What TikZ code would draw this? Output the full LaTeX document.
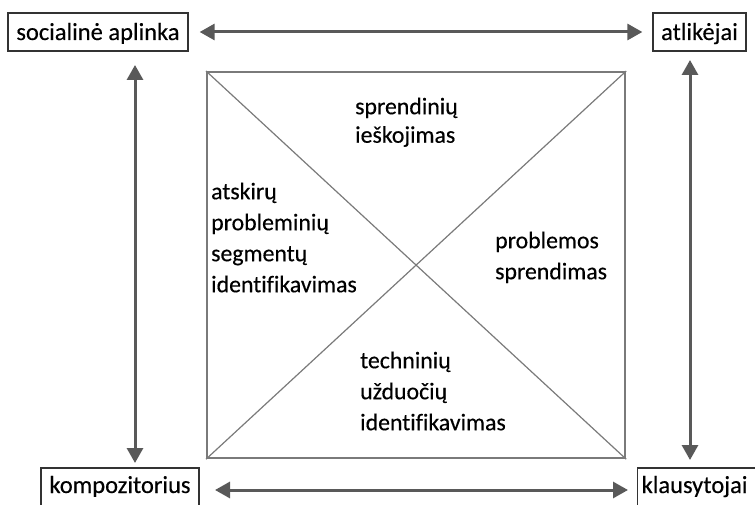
\documentclass[tikz,border=0pt]{standalone}
\usepackage{fontspec}
\setmainfont[Ligatures=NoCommon, FakeBold=0.35]{Carlito}
\usetikzlibrary{arrows.meta}
\definecolor{arrowgray}{HTML}{595959}
\definecolor{sqgray}{HTML}{7A7A7A}
\definecolor{boxline}{HTML}{333333}
\begin{document}
\begin{tikzpicture}[x=1pt,y=-1pt,
  boxlbl/.style={draw=boxline, line width=1.3pt, inner sep=0pt, anchor=base,
    font=\fontsize{24.5}{30}\selectfont},
  lbl/.style={inner sep=0pt, anchor=north west, align=left,
    font=\fontsize{23.8}{31}\selectfont},
  conn/.style={draw=arrowgray, line width=3pt,
    {Triangle[length=15pt,width=16pt]}-{Triangle[length=15pt,width=16pt]}},
]
\useasboundingbox (0,0) rectangle (755,505);
\clip (0,0) rectangle (755,505);

% corner boxes
\node[boxlbl, text height=27pt, text depth=11pt, minimum width=180pt] (soc) at (98,40) {socialinė aplinka};
\node[boxlbl, text height=27pt, text depth=11pt, minimum width=93pt] (atl) at (699.5,40) {atlikėjai};
\node[boxlbl, text height=25pt, text depth=40pt, minimum width=158pt] (komp) at (120,493) {kompozitorius};
\node[boxlbl, anchor=base west, text height=25pt, text depth=40pt, inner xsep=4pt, text width=122pt, align=left] (klaus) at (637,493) {klausytojai};

% central square with diagonals
\node[draw=sqgray, line width=2.2pt, minimum width=418pt, minimum height=386pt, inner sep=0pt, anchor=north west] (sq) at (206,71) {};
\draw[sqgray, line width=1.2pt] (sq.north west) -- (sq.south east);
\draw[sqgray, line width=1.2pt] (sq.south west) -- (sq.north east);

% connector end points
\coordinate (bl) at (215,490);
\coordinate (br) at (628,490);
\coordinate (lt) at (135,65);
\coordinate (lb) at (135,463);
\coordinate (rt) at (690,60);
\coordinate (rb) at (690,460);

\draw[conn, shorten <=11pt, shorten >=10pt] (soc.east) -- (atl.west);
\draw[conn] (bl) -- (br);
\draw[conn] (lt) -- (lb);
\draw[conn] (rt) -- (rb);

% labels
\node[lbl, font=\fontsize{23.8}{28.5}\selectfont] (sp) at (355,97.5) {sprendinių\\ieškojimas};
\node[lbl] (at) at (211,182.5) {atskirų\\probleminių\\segmentų\\identifikavimas};
\node[lbl] (pr) at (495,231.5) {problemos\\sprendimas};
\node[lbl] (te) at (360,351.5) {techninių\\užduočių\\identifikavimas};
\end{tikzpicture}
\end{document}
